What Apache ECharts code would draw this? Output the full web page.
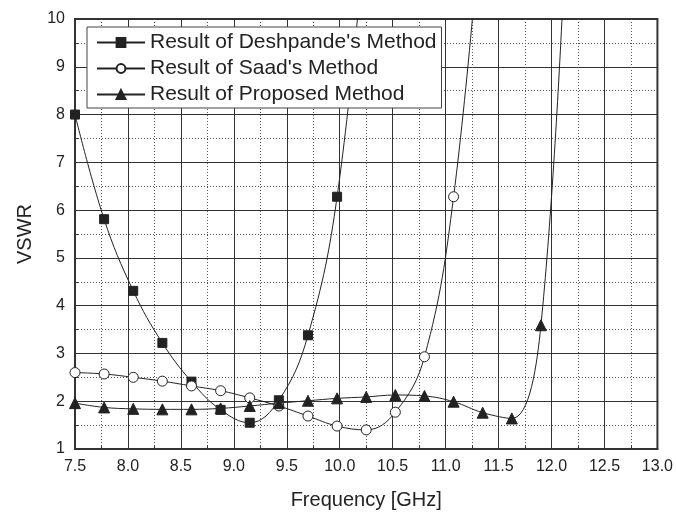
<!DOCTYPE html>
<html>
<head>
<meta charset="utf-8">
<script src="https://cdn.jsdelivr.net/npm/echarts@6/dist/echarts.min.js"></script>
<style>
    html, body { margin: 0; padding: 0; background: #fff; }
    #chart { width: 676px; height: 516px; }
</style>
</head>
<body>
<div id="chart"></div>
<script>
    // frequency sample points [GHz]; the last one is only the off-plot continuation of each curve
    var freq = [7.5, 7.775, 8.05, 8.325, 8.6, 8.875, 9.15, 9.425, 9.7, 9.975,
                10.25, 10.525, 10.8, 11.075, 11.35, 11.625, 11.9, 12.175];

    var deshpande = [8.0, 5.81, 4.31, 3.22, 2.41, 1.82, 1.55, 2.02, 3.38, 6.28, 12.0];
    var saad = [2.60, 2.57, 2.50, 2.42, 2.32, 2.22, 2.07, 1.90, 1.69, 1.48,
                1.40, 1.77, 2.93, 6.28, 12.5];
    var proposed = [1.96, 1.87, 1.84, 1.83, 1.83, 1.85, 1.90, 1.96, 2.01, 2.06,
                    2.09, 2.13, 2.11, 1.99, 1.76, 1.64, 3.59, 14.0];

    var seriesNames = ["Result of Deshpande's Method", "Result of Saad's Method", "Result of Proposed Method"];
    var xTicks = ['7.5', '8.0', '8.5', '9.0', '9.5', '10.0', '10.5', '11.0', '11.5', '12.0', '12.5', '13.0'];

    function toPoints(vals) {
        return vals.map(function (v, i) {
            var p = { value: [freq[i], v] };
            if (i == vals.length - 1) p.symbol = 'none';
            return p;
        });
    }

    var font = 'Arial, "Liberation Sans", sans-serif';
    var myChart = echarts.init(document.getElementById('chart'));

    var lineSeries = function (name, vals, symbol, size, fill) {
        return {
            name: name,
            type: 'line',
            data: toPoints(vals),
            smooth: 0.4,
            clip: true,
            symbol: symbol,
            symbolSize: size,
            showAllSymbol: true,
            lineStyle: { color: '#222', width: 1 },
            itemStyle: { color: fill, borderColor: '#222', borderWidth: 1 }
        };
    };

    var option = {
        backgroundColor: '#fff',
        animation: false,
        grid: {
            left: 75, right: 16, top: 19, bottom: 67,
            show: true, borderColor: '#333', borderWidth: 2
        },
        legend: {
            orient: 'vertical',
            left: 87, top: 27,
            padding: [5, 5, 3, 9],
            itemGap: 5,
            itemWidth: 48,
            itemHeight: 11,
            backgroundColor: '#fff',
            borderColor: '#444',
            borderWidth: 1,
            textStyle: { fontFamily: font, fontSize: 21, color: '#222' },
            data: seriesNames
        },
        xAxis: {
            type: 'value',
            min: 7.5, max: 13.0, interval: 0.5,
            name: 'Frequency [GHz]',
            nameLocation: 'middle',
            nameGap: 41,
            nameTextStyle: { fontFamily: font, fontSize: 20, color: '#222' },
            axisLine: { show: true, onZero: false, lineStyle: { color: '#333', width: 2 } },
            axisTick: { show: true, inside: true, length: 6, lineStyle: { color: '#333' } },
            minorTick: { show: true, splitNumber: 2, length: 3, lineStyle: { color: '#333' } },
            axisLabel: {
                fontFamily: font, fontSize: 16, color: '#222', margin: 10,
                formatter: function (v) { return xTicks[Math.round((v - 7.5) / 0.5)]; }
            },
            splitLine: { show: true, lineStyle: { color: '#333', width: 1 } },
            minorSplitLine: { show: true, lineStyle: { color: '#555', width: 1, type: [1, 2] } }
        },
        yAxis: {
            type: 'value',
            min: 1, max: 10, interval: 1,
            name: 'VSWR',
            nameLocation: 'middle',
            nameGap: 40,
            nameTextStyle: { fontFamily: font, fontSize: 20, color: '#222' },
            axisLine: { show: true, lineStyle: { color: '#333', width: 2 } },
            axisTick: { show: true, inside: true, length: 6, lineStyle: { color: '#333' } },
            minorTick: { show: true, splitNumber: 2, length: 3, lineStyle: { color: '#333' } },
            axisLabel: { fontFamily: font, fontSize: 16, color: '#222', margin: 10 },
            splitLine: { show: true, lineStyle: { color: '#333', width: 1 } },
            minorSplitLine: { show: true, lineStyle: { color: '#555', width: 1, type: [1, 2] } }
        },
        series: [
            lineSeries(seriesNames[0], deshpande, 'rect', 9, '#222'),
            lineSeries(seriesNames[1], saad, 'circle', 10, '#fff'),
            lineSeries(seriesNames[2], proposed, 'triangle', 11, '#222')
        ]
    };
    myChart.setOption(option);
</script>
</body>
</html>
